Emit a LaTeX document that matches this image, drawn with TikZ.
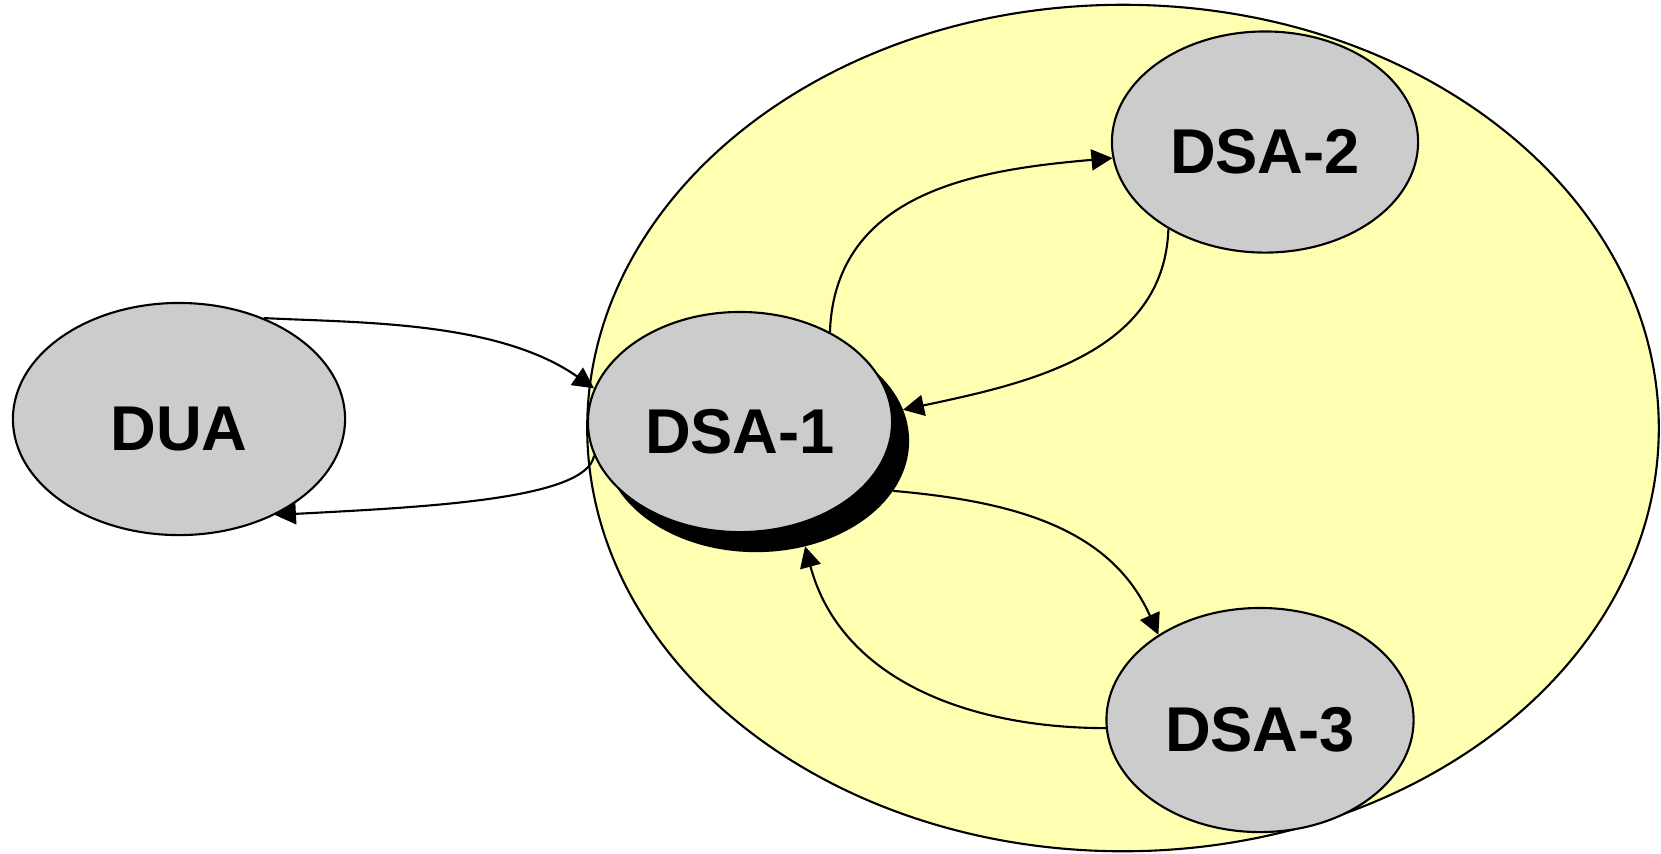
\documentclass[tikz,border=0pt]{standalone}
\usepackage{fontspec}
\setmainfont{Liberation Sans}
\usetikzlibrary{arrows.meta}
\usetikzlibrary{shapes}
\definecolor{zoneyellow}{RGB}{255,255,178}
\tikzstyle{agent}=[ellipse,draw=black,fill=black!20,line width=0.6pt,inner sep=0pt,text height=0.63cm,text depth=0pt,font=\fontsize{18}{22}\selectfont\bfseries]
\tikzstyle{zone}=[ellipse,draw=black,fill=zoneyellow,line width=0.6pt,inner sep=0pt]
\tikzstyle{edge} = [draw,line width=0.6pt,-{Triangle[length=0.21cm,width=0.21cm]}]

\begin{document}
\begin{tikzpicture}[x=0.01cm,y=-0.01cm]
    \useasboundingbox (0,0) rectangle (1661,853);

    \node[zone,minimum width=10.71cm,minimum height=8.46cm] (dsazone) at (1123,428) {};

    % shadow under DSA-1
    \node[agent,fill=black,minimum width=3.04cm,minimum height=2.20cm] (dsa1shadow) at (756,441) {};

    \foreach \pos/\name/\txt/\agw/\agh in {{(179,419)/dua/DUA/3.32/2.32}, {(740,422)/dsa1/DSA-1/3.04/2.20}, {(1265,142)/dsa2/DSA-2/3.06/2.21}, {(1260,720)/dsa3/DSA-3/3.07/2.24}}
        \node[agent,minimum width=\agw cm,minimum height=\agh cm] (\name) at \pos {\txt};

    \foreach \source/\dest/\o/\i/\lo/\li in {dua.50/dsa1.167/-3/145/0.7/0.9, dsa1.193/dua.-45/-100/3/0.35/1.2, dsa1.45/dsa2.186/88/185/1.1/1, dsa2.222/dsa1shadow.12/-92/12/1/1, dsa1shadow.-20/dsa3.140/-5/114/1/1, dsa3.183/dsa1shadow.-65/180/-75/1/1}
        \path[edge] (\source) to[out=\o,in=\i,out looseness=\lo,in looseness=\li] (\dest);

\end{tikzpicture}
\end{document}
